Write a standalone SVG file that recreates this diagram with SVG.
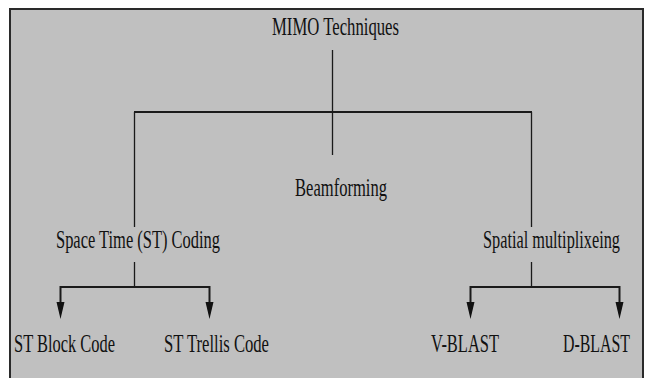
<svg xmlns="http://www.w3.org/2000/svg" width="646" height="378" viewBox="0 0 646 378">
<defs>
<style>
.t{font-family:"Liberation Serif","Times New Roman",serif;font-size:26px;fill:#111;}
.c{stroke:#1a1a1a;fill:none;}
.v{stroke-width:1.3;}
.h{stroke-width:2;}
.a{fill:#111;}
</style>
</defs>
<rect x="0" y="0" width="646" height="378" fill="#ffffff"/>
<rect id="frame" x="10" y="9" width="633" height="380" fill="#c0c0c0" stroke="#2a2a2a" stroke-width="2"/>
<g id="connectors">
<line class="c v" x1="332.5" y1="50" x2="332.5" y2="155"/>
<line class="c h" x1="134" y1="112" x2="532" y2="112"/>
<line class="c v" x1="134.5" y1="112" x2="134.5" y2="227"/>
<line class="c v" x1="531.5" y1="112" x2="531.5" y2="227"/>
<line class="c v" x1="134.5" y1="262" x2="134.5" y2="287"/>
<polyline class="c h" points="60.5,303 60.5,287 209.5,287 209.5,303"/>
<path class="a" d="M56.5,302 L64.5,302 L60.5,319 Z"/>
<path class="a" d="M205.5,302 L213.5,302 L209.5,319 Z"/>
<line class="c v" x1="531.5" y1="262" x2="531.5" y2="287"/>
<polyline class="c h" points="470.5,303 470.5,287 619.5,287 619.5,303"/>
<path class="a" d="M466.5,302 L474.5,302 L470.5,319 Z"/>
<path class="a" d="M615.5,302 L623.5,302 L619.5,319 Z"/>
</g>
<g id="mimo"><text class="t" x="335.5" y="35" text-anchor="middle" textLength="127" lengthAdjust="spacingAndGlyphs">MIMO Techniques</text></g>
<g id="beamforming"><text class="t" x="341" y="196" text-anchor="middle" textLength="92" lengthAdjust="spacingAndGlyphs">Beamforming</text></g>
<g id="stcoding"><text class="t" x="138" y="248" text-anchor="middle" textLength="164" lengthAdjust="spacingAndGlyphs">Space Time (ST) Coding</text></g>
<g id="spatial"><text class="t" x="620" y="248" text-anchor="end" textLength="137" lengthAdjust="spacingAndGlyphs">Spatial multiplixeing</text></g>
<g id="stblock"><text class="t" x="14" y="352" textLength="101" lengthAdjust="spacingAndGlyphs">ST Block Code</text></g>
<g id="sttrellis"><text class="t" x="164" y="352" textLength="105" lengthAdjust="spacingAndGlyphs">ST Trellis Code</text></g>
<g id="vblast"><text class="t" x="465" y="352" text-anchor="middle" textLength="68" lengthAdjust="spacingAndGlyphs">V-BLAST</text></g>
<g id="dblast"><text class="t" x="630" y="352" text-anchor="end" textLength="67" lengthAdjust="spacingAndGlyphs">D-BLAST</text></g>
</svg>
